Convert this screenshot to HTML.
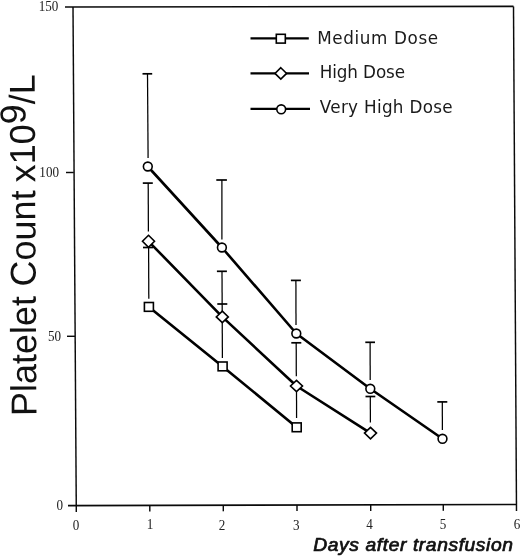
<!DOCTYPE html>
<html>
<head>
<meta charset="utf-8">
<title>Platelet Count after transfusion</title>
<style>
html,body{margin:0;padding:0;background:#fff;}
body{width:520px;height:558px;overflow:hidden;}
svg{display:block;}
.tick{font-family:"Liberation Serif","DejaVu Serif",serif;font-size:13.5px;fill:#222;}
.leg{font-family:"DejaVu Sans","Liberation Sans",sans-serif;font-size:16.8px;fill:#1a1a1a;}
.xt{font-family:"Liberation Sans","DejaVu Sans",sans-serif;font-size:18px;font-style:italic;fill:#111;stroke:#111;stroke-width:0.7px;stroke-linejoin:round;}
.yt{font-family:"Liberation Sans","DejaVu Sans",sans-serif;font-size:36px;fill:#111;}
.ax{stroke:#0a0a0a;stroke-width:1.45;fill:none;stroke-linecap:butt;}
.eb{stroke:#000;stroke-width:1.25;fill:none;}
.cap{stroke:#000;stroke-width:1.7;fill:none;}
.ln{stroke:#000;stroke-width:2.6;fill:none;stroke-linejoin:round;}
.lg{stroke:#000;stroke-width:2.3;fill:none;}
.mk{stroke:#000;stroke-width:1.6;fill:#fff;}
</style>
</head>
<body>
<svg width="520" height="558" viewBox="0 0 520 558">
<rect width="520" height="558" fill="#fff"/>

<!-- frame -->
<g class="ax">
<path d="M65,7 L513.5,6.4" stroke-width="1.65"/>
<path d="M73,7 L76.3,512"/>
<path d="M513.5,6.4 L516.5,511"/>
<path d="M68,505.6 L516.5,504.5" stroke-width="1.7"/>
<!-- y ticks -->
<path d="M66,172.5 L73.8,172.5"/>
<path d="M67,336.3 L75,336.3"/>
<!-- x ticks -->
<path d="M149.8,505.4 L149.8,511.5"/>
<path d="M223.3,505.2 L223.3,511.3"/>
<path d="M297,505 L297,511"/>
<path d="M370.7,504.9 L370.7,511"/>
<path d="M443.3,504.7 L443.3,510.8"/>
</g>

<!-- y tick labels -->
<g class="tick" text-anchor="end">
<text transform="translate(58.3,10.8) scale(0.97,1.06)">150</text>
<text transform="translate(59,177) scale(0.97,1.06)">100</text>
<text transform="translate(61,341) scale(0.97,1.06)">50</text>
<text transform="translate(63,509.8) scale(0.97,1.06)">0</text>
</g>
<!-- x tick labels -->
<g class="tick" text-anchor="middle">
<text transform="translate(76,529.6) scale(0.97,1.06)">0</text>
<text transform="translate(150,529.4) scale(0.97,1.06)">1</text>
<text transform="translate(221.9,529.6) scale(0.97,1.06)">2</text>
<text transform="translate(296.2,529.6) scale(0.97,1.06)">3</text>
<text transform="translate(369.5,529.4) scale(0.97,1.06)">4</text>
<text transform="translate(443,529.2) scale(0.97,1.06)">5</text>
<text transform="translate(517,528.6) scale(0.97,1.06)">6</text>
</g>

<!-- error bars -->
<g class="eb">
<path d="M147.5,74 L148.1,158"/>
<path d="M148.2,183 L148.4,231.5"/>
<path d="M148.6,247.5 L148.8,298.8"/>
<path d="M221.9,180 L221.9,239.4"/>
<path d="M222,271.3 L222.4,358"/>
<path d="M295.9,280.4 L296,325"/>
<path d="M296.2,342.8 L296.3,376.3"/>
<path d="M296.5,392 L296.6,418"/>
<path d="M370.1,342.3 L370.2,380"/>
<path d="M370.3,396.5 L370.4,422.5"/>
<path d="M442.3,402 L442.4,430"/>
</g>
<g class="cap">
<path d="M142.5,73.8 L152.2,73.8"/>
<path d="M142.8,183.1 L152.8,183.1"/>
<path d="M143,247.5 L153,247.5"/>
<path d="M216.3,180 L226.9,180"/>
<path d="M216.9,271.3 L226.9,271.3"/>
<path d="M217.3,304 L227.3,304"/>
<path d="M290.9,280.4 L300.9,280.4"/>
<path d="M291.3,342.8 L301.3,342.8"/>
<path d="M365.3,342.3 L375,342.3"/>
<path d="M365.5,396.5 L375.3,396.5"/>
<path d="M437.3,401.9 L447.3,401.9"/>
</g>

<!-- data lines -->
<g class="ln">
<path d="M147.8,166.5 L221.9,247.5 L296.3,333.5 L370.3,388.8 L442.5,438.8"/>
<path d="M148.5,241.3 L222.3,316.9 L296.5,386 L370.5,433.1"/>
<path d="M148.9,306.9 L222.6,366.4 L296.6,427.3"/>
</g>

<!-- markers -->
<g class="mk">
<circle cx="147.8" cy="166.5" r="4.4"/>
<circle cx="221.9" cy="247.5" r="4.4"/>
<circle cx="296.3" cy="333.5" r="4.4"/>
<circle cx="370.3" cy="388.8" r="4.4"/>
<circle cx="442.5" cy="438.8" r="4.4"/>
<path d="M148.5,235.3 L154.5,241.3 L148.5,247.3 L142.5,241.3 Z"/>
<path d="M222.3,311.2 L228.3,316.9 L222.3,322.6 L216.3,316.9 Z"/>
<path d="M296.5,380.3 L302.5,386 L296.5,391.7 L290.5,386 Z"/>
<path d="M370.5,427.4 L376.5,433.1 L370.5,438.8 L364.5,433.1 Z"/>
<rect x="144.4" y="302.5" width="9" height="8.8"/>
<rect x="218.1" y="362" width="9" height="8.8"/>
<rect x="292.2" y="422.9" width="9" height="8.8"/>
</g>

<!-- legend -->
<g class="lg">
<path d="M250.5,38.4 L308.8,38.4"/>
<path d="M250.5,73.4 L309,73.4"/>
<path d="M250.5,108.9 L310,108.9"/>
</g>
<g class="mk">
<rect x="276.3" y="34.3" width="9" height="8.8"/>
<path d="M280.8,67.7 L286.6,73.4 L280.8,79.1 L275,73.4 Z"/>
<circle cx="281.2" cy="109.3" r="4.4"/>
</g>
<g class="leg">
<text x="317.2" y="44.4" textLength="121" lengthAdjust="spacing">Medium Dose</text>
<text x="319.8" y="77.8" textLength="85.2" lengthAdjust="spacing">High Dose</text>
<text x="319.8" y="113" textLength="132.8" lengthAdjust="spacing">Very High Dose</text>
</g>

<!-- axis titles -->
<text class="xt" transform="translate(313.3,551) scale(1.07,1)" textLength="186.6" lengthAdjust="spacing">Days after transfusion</text>
<text class="yt" transform="translate(36.5,416) rotate(-90.33)">Platelet <tspan dx="-0.5">Count </tspan><tspan dx="-2">x10</tspan><tspan dy="-9.3">9</tspan><tspan dy="9.3">/L</tspan></text>
</svg>
</body>
</html>
